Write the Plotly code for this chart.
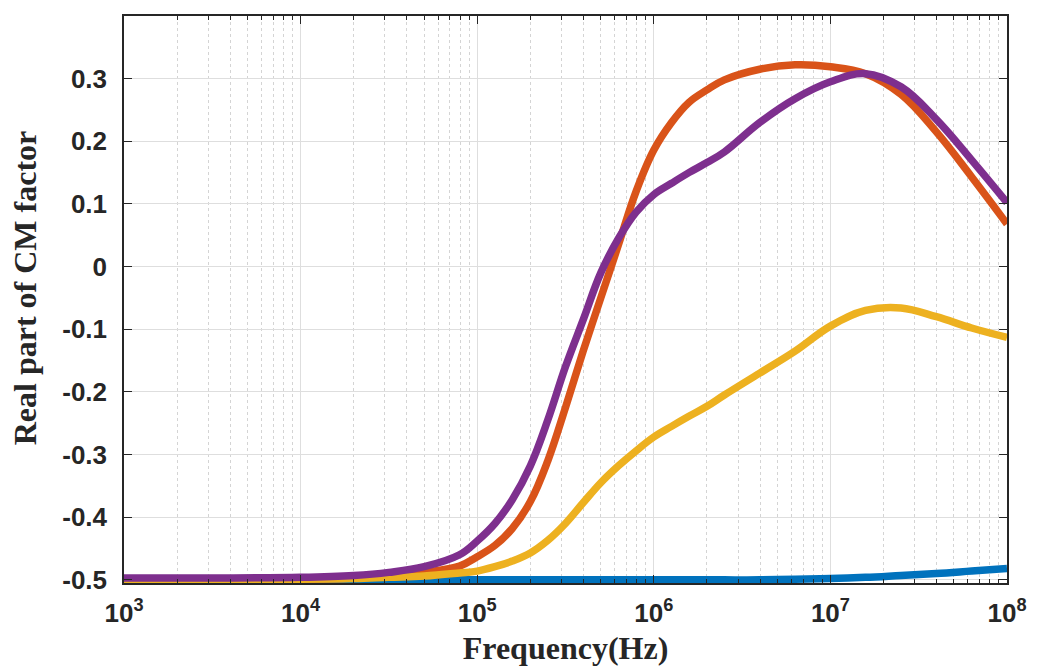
import plotly.graph_objects as go

freq = [1e3, 3.16e3, 1e4, 2e4, 3.16e4, 5.01e4, 7.94e4, 1e5, 1.26e5, 1.58e5, 2e5, 2.51e5, 3.16e5, 3.98e5,
        5.01e5, 6.31e5, 7.94e5, 1e6, 1.26e6, 1.58e6, 2e6, 2.51e6, 3.98e6, 6.31e6, 1e7, 1.58e7, 2.51e7,
        3.98e7, 6.31e7, 1e8]

blue = [-0.5, -0.5, -0.5, -0.5, -0.5, -0.5, -0.5, -0.5, -0.5, -0.5, -0.5, -0.5, -0.5, -0.5,
        -0.5, -0.5, -0.5, -0.5, -0.5, -0.5, -0.5, -0.5, -0.5, -0.499, -0.498, -0.496, -0.493,
        -0.490, -0.486, -0.482]
orange = [-0.499, -0.499, -0.499, -0.497, -0.494, -0.488, -0.478, -0.463, -0.445, -0.418, -0.375, -0.310,
          -0.225, -0.135, -0.050, 0.035, 0.120, 0.186, 0.230, 0.262, 0.282, 0.298, 0.315, 0.322,
          0.319, 0.308, 0.275, 0.215, 0.143, 0.068]
yellow = [-0.499, -0.499, -0.499, -0.498, -0.496, -0.494, -0.489, -0.486, -0.479, -0.470, -0.457, -0.437,
          -0.410, -0.377, -0.345, -0.318, -0.294, -0.272, -0.255, -0.239, -0.223, -0.205, -0.170,
          -0.135, -0.095, -0.070, -0.066, -0.080, -0.098, -0.113]
purple = [-0.497, -0.497, -0.496, -0.493, -0.488, -0.479, -0.460, -0.438, -0.410, -0.372, -0.318, -0.245,
          -0.160, -0.085, -0.010, 0.045, 0.087, 0.115, 0.133, 0.150, 0.166, 0.183, 0.230, 0.268,
          0.295, 0.308, 0.287, 0.235, 0.170, 0.102]

series = [("blue", blue, "#0072BD"), ("orange", orange, "#D95319"),
          ("yellow", yellow, "#EDB120"), ("purple", purple, "#7E2F8E")]

xtick_vals = [1e3, 1e4, 1e5, 1e6, 1e7, 1e8]
xtick_text = ["10<sup>3</sup>", "10<sup>4</sup>", "10<sup>5</sup>", "10<sup>6</sup>",
              "10<sup>7</sup>", "10<sup>8</sup>"]
ytick_vals = [-0.5, -0.4, -0.3, -0.2, -0.1, 0, 0.1, 0.2, 0.3]
ytick_text = ["-0.5", "-0.4", "-0.3", "-0.2", "-0.1", "0", "0.1", "0.2", "0.3"]

fig = go.Figure()
for name, vals, col in series:
    fig.add_trace(go.Scatter(x=freq, y=vals, mode="lines", name=name,
                             line=dict(color=col, width=7.5, shape="spline", smoothing=1.1)))

tickfont = dict(family="Liberation Sans", size=26, color="#262626", weight="bold")
xtitlefont = dict(family="Liberation Serif", size=32, color="#262626", weight="bold")
ytitlefont = dict(family="Liberation Serif", size=32, color="#262626", weight="bold")

fig.update_layout(
    width=1038, height=671,
    margin=dict(l=116, r=39, t=8, b=96, autoexpand=False),
    paper_bgcolor="white", plot_bgcolor="white",
    showlegend=False,
    xaxis=dict(type="log", range=[3, 8], tickvals=xtick_vals, ticktext=xtick_text,
               tickfont=tickfont, ticks="inside", ticklen=8, tickcolor="#262626",
               ticklabelstandoff=6, automargin=False,
               showline=True, linecolor="#262626", linewidth=1.5, mirror="ticks",
               showgrid=True, gridcolor="#dedede", gridwidth=1, zeroline=False,
               title=dict(text="Frequency(Hz)", font=xtitlefont, standoff=10),
               minor=dict(dtick="D1", ticks="inside", ticklen=4, tickcolor="#262626",
                          showgrid=True, gridcolor="#d4d4d4", griddash="dot", gridwidth=1)),
    yaxis=dict(range=[-0.505, 0.4], tickvals=ytick_vals, ticktext=ytick_text,
               tickfont=tickfont, ticks="inside", ticklen=8, tickcolor="#262626",
               ticklabelstandoff=10, automargin=False,
               showline=True, linecolor="#262626", linewidth=1.5, mirror="ticks",
               showgrid=True, gridcolor="#dedede", gridwidth=1, zeroline=False),
    annotations=[dict(text="Real part of CM factor", font=ytitlefont, textangle=-90,
                      xref="paper", yref="paper", x=-0.112, y=0.52,
                      xanchor="center", yanchor="middle", showarrow=False)],
)

fig.write_html("out.html")
